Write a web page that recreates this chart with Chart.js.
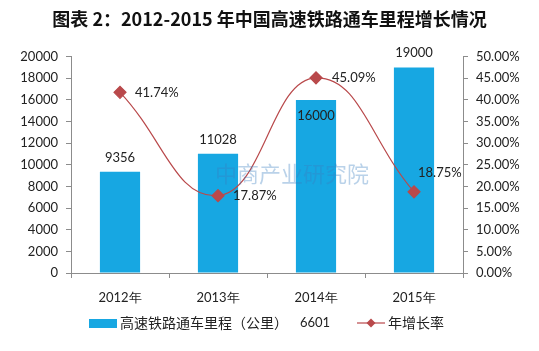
<!DOCTYPE html>
<html lang="zh">
<head>
<meta charset="UTF-8">
<title>2012-2015年中国高速铁路通车里程增长情况</title>
<script src="https://cdn.jsdelivr.net/npm/chart.js"></script>
<style>
  html, body { margin: 0; padding: 0; background: #fff; }
  #wrap { width: 539px; height: 351px; }
</style>
</head>
<body>
<div id="wrap"><canvas id="myChart" width="539" height="351"></canvas></div>
<script>
// 数据
const years = ['2012年', '2013年', '2014年', '2015年'];
const mileage = [9356, 11028, 16000, 19000];
const growthRate = [41.74, 17.87, 45.09, 18.75];
const barLabel = '高速铁路通车里程（公里）';
const lineLabel = '年增长率';
const legendExtra = '6601';

const barColor = '#17a7e2';
const lineColor = '#b9494b';
const axisColor = '#8c8c8c';
const cjk = '"Noto Sans CJK SC", sans-serif';
const num = 'Lato, "Open Sans", sans-serif';

// 数据标签偏移
const barLabelDy = [-14, -14, 16, -15];
const lineLabelPos = [[15, 0], [15, 0], [16, 0], [4, -19]];

const labelsPlugin = {
  id: 'labelsPlugin',
  afterDatasetsDraw(chart) {
    const c = chart.ctx;
    c.save();
    c.fillStyle = '#222';
    c.font = '13px ' + num;
    c.textBaseline = 'middle';
    chart.getDatasetMeta(0).data.forEach((el, i) => {
      c.textAlign = 'center';
      c.fillText(String(mileage[i]), el.x, el.y + barLabelDy[i]);
    });
    chart.getDatasetMeta(1).data.forEach((el, i) => {
      c.textAlign = 'left';
      c.fillText(growthRate[i].toFixed(2) + '%', el.x + lineLabelPos[i][0], el.y + lineLabelPos[i][1]);
    });
    // 水印
    c.globalAlpha = 0.35;
    c.fillStyle = '#3a7fc0';
    c.font = '22px ' + cjk;
    c.textAlign = 'left';
    c.fillText('中商产业研究院', 215, 174);
    c.restore();
  },
  afterDraw(chart) {
    // 图例
    const c = chart.ctx;
    const y = 323;
    c.save();
    c.fillStyle = barColor;
    c.fillRect(89, y - 4, 28, 9);
    c.fillStyle = '#222';
    c.font = '14px ' + cjk;
    c.textBaseline = 'middle';
    c.textAlign = 'left';
    c.fillText(barLabel, 120, y);
    c.font = '13px ' + num;
    c.fillText(legendExtra, 300, y);
    c.strokeStyle = lineColor;
    c.lineWidth = 1.2;
    c.beginPath();
    c.moveTo(357, y);
    c.lineTo(385, y);
    c.stroke();
    c.fillStyle = lineColor;
    c.beginPath();
    c.moveTo(371, y - 4.5);
    c.lineTo(375.5, y);
    c.lineTo(371, y + 4.5);
    c.lineTo(366.5, y);
    c.closePath();
    c.fill();
    c.fillStyle = '#222';
    c.font = '14px ' + cjk;
    c.fillText(lineLabel, 388, y);
    c.restore();
  }
};

const ctx = document.getElementById('myChart').getContext('2d');
const myChart = new Chart(ctx, {
  type: 'bar',
  data: {
    labels: years,
    datasets: [{
      type: 'bar',
      label: barLabel,
      data: mileage,
      backgroundColor: barColor,
      yAxisID: 'y',
      barPercentage: 0.82,
      categoryPercentage: 0.5,
      order: 2
    }, {
      type: 'line',
      label: lineLabel,
      data: growthRate,
      borderColor: lineColor,
      borderWidth: 1.2,
      backgroundColor: lineColor,
      pointStyle: 'rectRot',
      pointRadius: 6,
      pointHoverRadius: 6,
      tension: 0.45,
      yAxisID: 'y1',
      order: 1
    }]
  },
  options: {
    responsive: false,
    animation: false,
    layout: { padding: { top: 0, left: 0, right: 0, bottom: 40 } },
    plugins: {
      legend: { display: false },
      tooltip: { enabled: false },
      title: {
        display: true,
        text: '图表 2：2012-2015 年中国高速铁路通车里程增长情况',
        color: '#111',
        font: { family: cjk, size: 18, weight: 'bold' },
        padding: { top: 8, bottom: 27 }
      }
    },
    scales: {
      x: {
        grid: { drawOnChartArea: false, color: axisColor, tickLength: 5, offset: true },
        border: { color: axisColor },
        ticks: { color: '#222', font: { family: num, size: 13 }, padding: 12 },
        afterFit(s) { s.height = 38; }
      },
      y: {
        position: 'left',
        min: 0, max: 20000,
        ticks: { stepSize: 2000, color: '#222', font: { family: num, size: 13 }, padding: 8,
          callback: v => String(v) },
        grid: { drawOnChartArea: false, color: axisColor, tickLength: 5 },
        border: { color: axisColor },
        afterFit(s) { s.width = 71; }
      },
      y1: {
        position: 'right',
        min: 0, max: 50,
        ticks: { stepSize: 5, color: '#222', font: { family: num, size: 13 }, padding: 8,
          callback: v => v.toFixed(2) + '%' },
        grid: { drawOnChartArea: false, color: axisColor, tickLength: 5 },
        border: { color: axisColor },
        afterFit(s) { s.width = 76; }
      }
    }
  },
  plugins: [labelsPlugin]
});
</script>
</body>
</html>
